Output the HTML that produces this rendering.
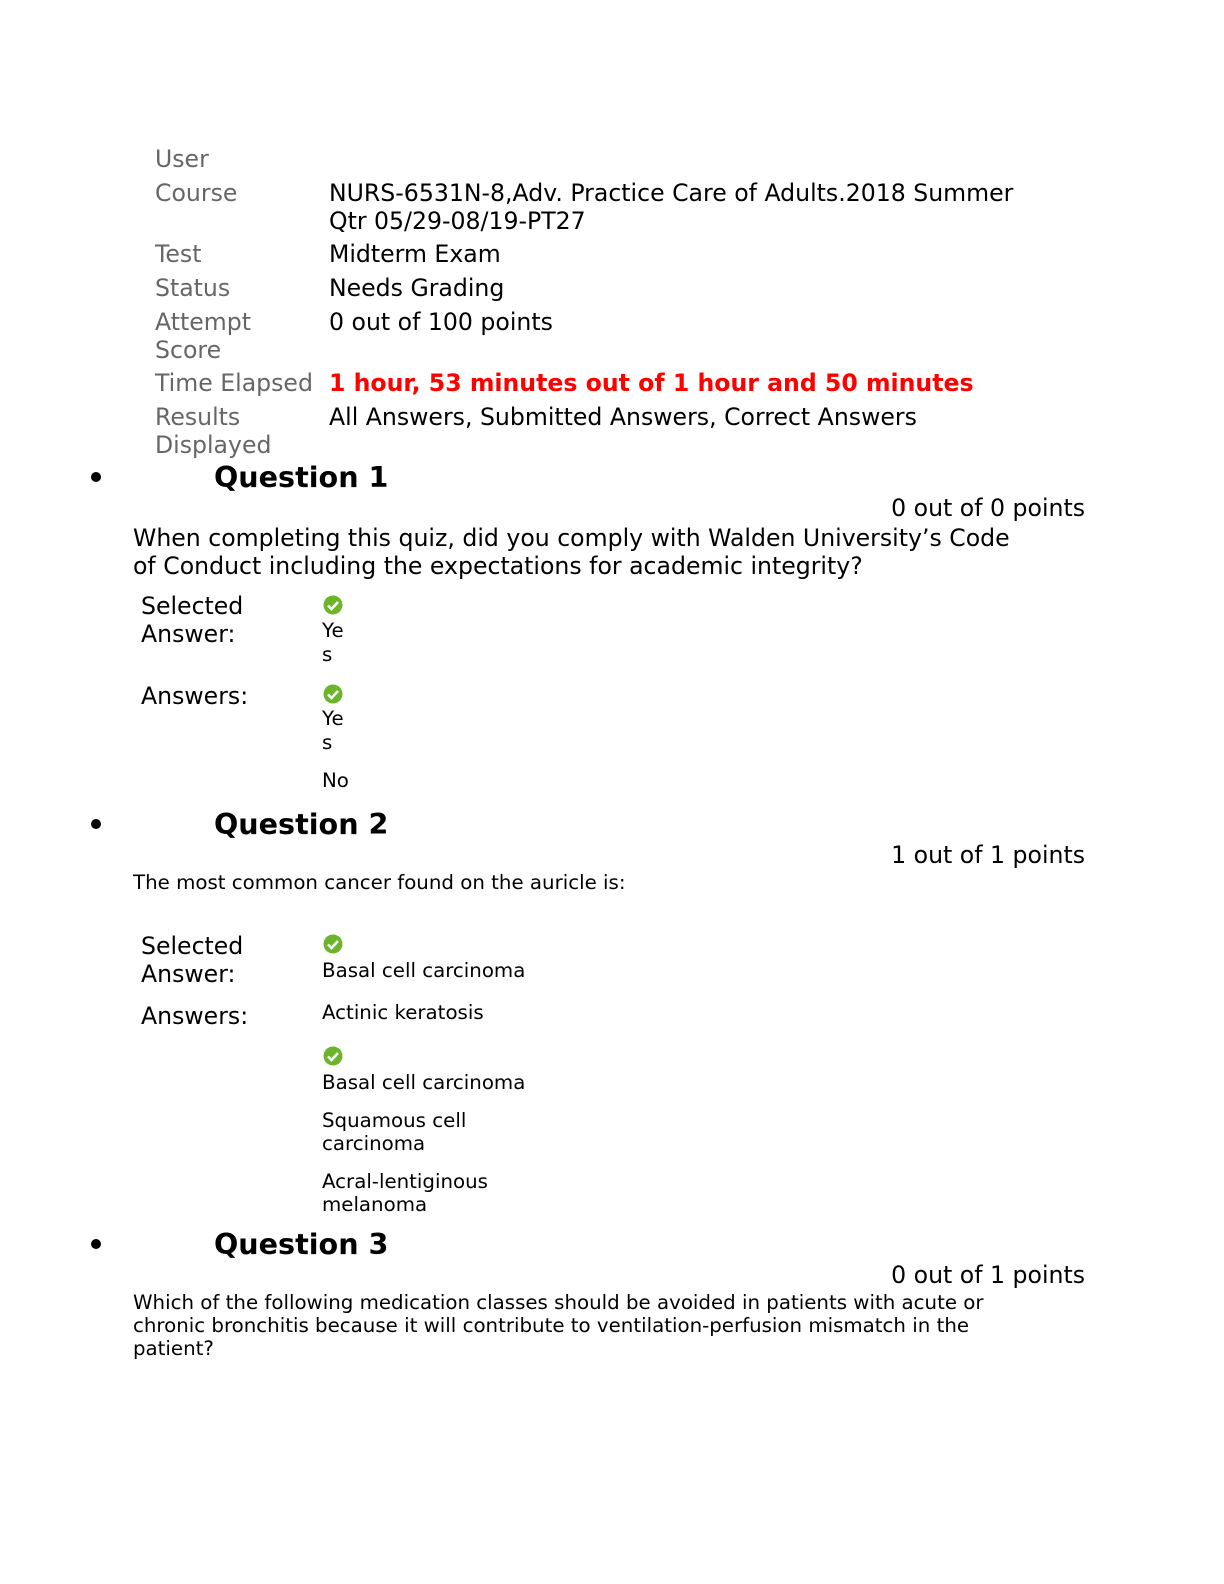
<!DOCTYPE html>
<html><head><meta charset="utf-8"><style>
body{margin:0;width:1224px;height:1584px;background:#fff;position:relative;font-family:"DejaVu Sans","Liberation Sans",sans-serif;color:#000}
.t{position:absolute;white-space:nowrap}
.a{font-size:23.6px;line-height:28px}
.g{color:#666}
.s{font-size:19.8px;line-height:23px}
.q{font-size:28.6px;line-height:32px;font-weight:bold}
.red{color:#f00;font-weight:bold}
.b{position:absolute;width:10px;height:10px;border-radius:50%;background:#000}
.c{position:absolute;width:20px;height:20px}
</style></head><body>
<div class="t a g" style="left:155px;top:145px">User</div>
<div class="t a g" style="left:155px;top:179px">Course</div>
<div class="t a" style="left:329px;top:179px">NURS-6531N-8,Adv. Practice Care of Adults.2018 Summer<br>Qtr 05/29-08/19-PT27</div>
<div class="t a g" style="left:155px;top:240px">Test</div>
<div class="t a" style="left:329px;top:240px">Midterm Exam</div>
<div class="t a g" style="left:155px;top:274px">Status</div>
<div class="t a" style="left:329px;top:274px">Needs Grading</div>
<div class="t a g" style="left:155px;top:308px">Attempt<br>Score</div>
<div class="t a" style="left:329px;top:308px">0 out of 100 points</div>
<div class="t a g" style="left:155px;top:369px">Time Elapsed</div>
<div class="t a red" style="left:329px;top:369px">1 hour, 53 minutes out of 1 hour and 50 minutes</div>
<div class="t a g" style="left:155px;top:403px">Results<br>Displayed</div>
<div class="t a" style="left:329px;top:403px">All Answers, Submitted Answers, Correct Answers</div>

<div class="b" style="left:91px;top:472px"></div>
<div class="t q" style="left:214px;top:461px">Question 1</div>
<div class="t a" style="right:139px;top:494px">0 out of 0 points</div>
<div class="t a" style="left:133px;top:524px">When completing this quiz, did you comply with Walden University’s Code<br>of Conduct including the expectations for academic integrity?</div>
<div class="t a" style="left:141px;top:592px">Selected<br>Answer:</div>
<svg class="c" style="left:323px;top:595px" viewBox="0 0 20 20"><circle cx="10" cy="10" r="9.5" fill="#6cb52a"/><path d="M5 10.5l3.5 3.5 6.5-7" stroke="#fff" stroke-width="2.6" fill="none"/></svg>
<div class="t s" style="left:322px;top:619px;line-height:24px">Ye<br>s</div>
<div class="t a" style="left:141px;top:682px">Answers:</div>
<svg class="c" style="left:323px;top:684px" viewBox="0 0 20 20"><circle cx="10" cy="10" r="9.5" fill="#6cb52a"/><path d="M5 10.5l3.5 3.5 6.5-7" stroke="#fff" stroke-width="2.6" fill="none"/></svg>
<div class="t s" style="left:322px;top:707px;line-height:24px">Ye<br>s</div>
<div class="t s" style="left:322px;top:769px">No</div>

<div class="b" style="left:91px;top:819px"></div>
<div class="t q" style="left:214px;top:808px">Question 2</div>
<div class="t a" style="right:139px;top:841px">1 out of 1 points</div>
<div class="t s" style="left:133px;top:871px">The most common cancer found on the auricle is:</div>
<div class="t a" style="left:141px;top:932px">Selected<br>Answer:</div>
<svg class="c" style="left:323px;top:934px" viewBox="0 0 20 20"><circle cx="10" cy="10" r="9.5" fill="#6cb52a"/><path d="M5 10.5l3.5 3.5 6.5-7" stroke="#fff" stroke-width="2.6" fill="none"/></svg>
<div class="t s" style="left:322px;top:959px">Basal cell carcinoma</div>
<div class="t a" style="left:141px;top:1002px">Answers:</div>
<div class="t s" style="left:322px;top:1001px">Actinic keratosis</div>
<svg class="c" style="left:323px;top:1046px" viewBox="0 0 20 20"><circle cx="10" cy="10" r="9.5" fill="#6cb52a"/><path d="M5 10.5l3.5 3.5 6.5-7" stroke="#fff" stroke-width="2.6" fill="none"/></svg>
<div class="t s" style="left:322px;top:1071px">Basal cell carcinoma</div>
<div class="t s" style="left:322px;top:1109px">Squamous cell<br>carcinoma</div>
<div class="t s" style="left:322px;top:1170px">Acral-lentiginous<br>melanoma</div>

<div class="b" style="left:91px;top:1239px"></div>
<div class="t q" style="left:214px;top:1228px">Question 3</div>
<div class="t a" style="right:139px;top:1261px">0 out of 1 points</div>
<div class="t s" style="left:133px;top:1291px">Which of the following medication classes should be avoided in patients with acute or<br>chronic bronchitis because it will contribute to ventilation-perfusion mismatch in the<br>patient?</div>
</body></html>
